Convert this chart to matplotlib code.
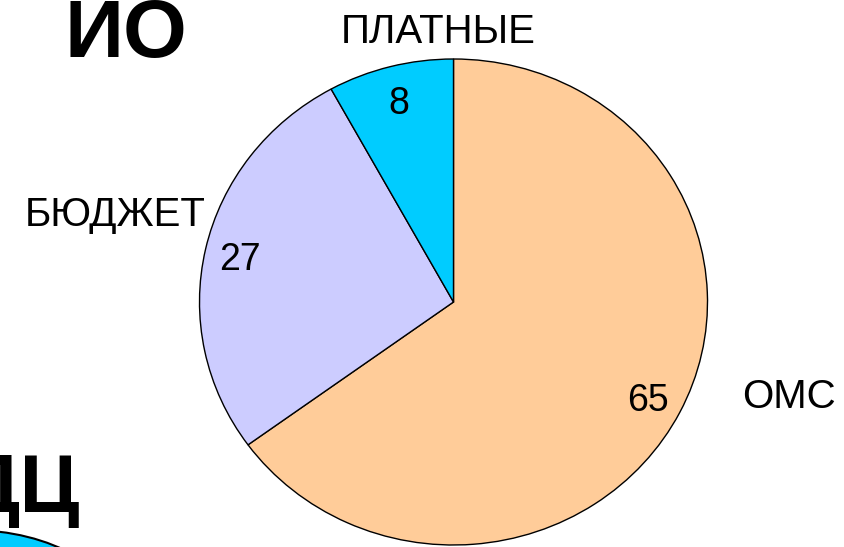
import matplotlib
matplotlib.use("Agg")
import matplotlib.pyplot as plt
from matplotlib.patches import Ellipse

plt.rcParams['font.family'] = ['Liberation Sans', 'DejaVu Sans']

# chart data
labels = ['ОМС', 'БЮДЖЕТ', 'ПЛАТНЫЕ']
values = [65, 27, 8]
colors = ['#FFCC99', '#CCCCFF', '#00CCFF']

# where the category names sit (axes data units, pie radius = 1)
label_pos = [(1.32, -0.39), (-0.975, 0.36), (-0.06, 1.11)]
label_ha = ['center', 'right', 'center']

W, H = 844, 547
fig = plt.figure(figsize=(W / 100, H / 100), dpi=100)

# pie axes, placed in pixels: centre (453.5, 302), radii 254 x 243
cx, cy, rx, ry = 453.5, 302, 254, 243
ax = fig.add_axes([(cx - rx) / W, (H - cy - ry) / H, 2 * rx / W, 2 * ry / H])

wedges, texts, autotexts = ax.pie(
    values, labels=labels, colors=colors, startangle=90, counterclock=False,
    autopct=lambda p: '%d' % round(p), pctdistance=0.86,
    wedgeprops=dict(edgecolor='black', linewidth=1.0),
    textprops=dict(fontsize=27, color='black'))
ax.set_aspect('auto')
ax.set_xlim(-1, 1)
ax.set_ylim(-1, 1)

for t, pos, ha in zip(texts, label_pos, label_ha):
    t.set_position(pos)
    t.set_ha(ha)
    t.set_va('center')
    t.set_fontsize(29)
for t in autotexts:
    t.set_va('center_baseline')

# decorations from the surrounding slide
fig.text(64 / W, 1 - 57 / H, 'ИО', fontsize=59, fontweight='bold',
         ha='left', va='baseline')
fig.text(80 / W, 1 - 512 / H, 'ДЦ', fontsize=59, fontweight='bold',
         ha='right', va='baseline')
fig.add_artist(Ellipse((-30 / W, 1 - 620 / H), 300 / W, 180 / H,
                       transform=fig.transFigure, facecolor='#00CCFF',
                       edgecolor='black', linewidth=1.5))

fig.savefig('out.png', dpi=100)
